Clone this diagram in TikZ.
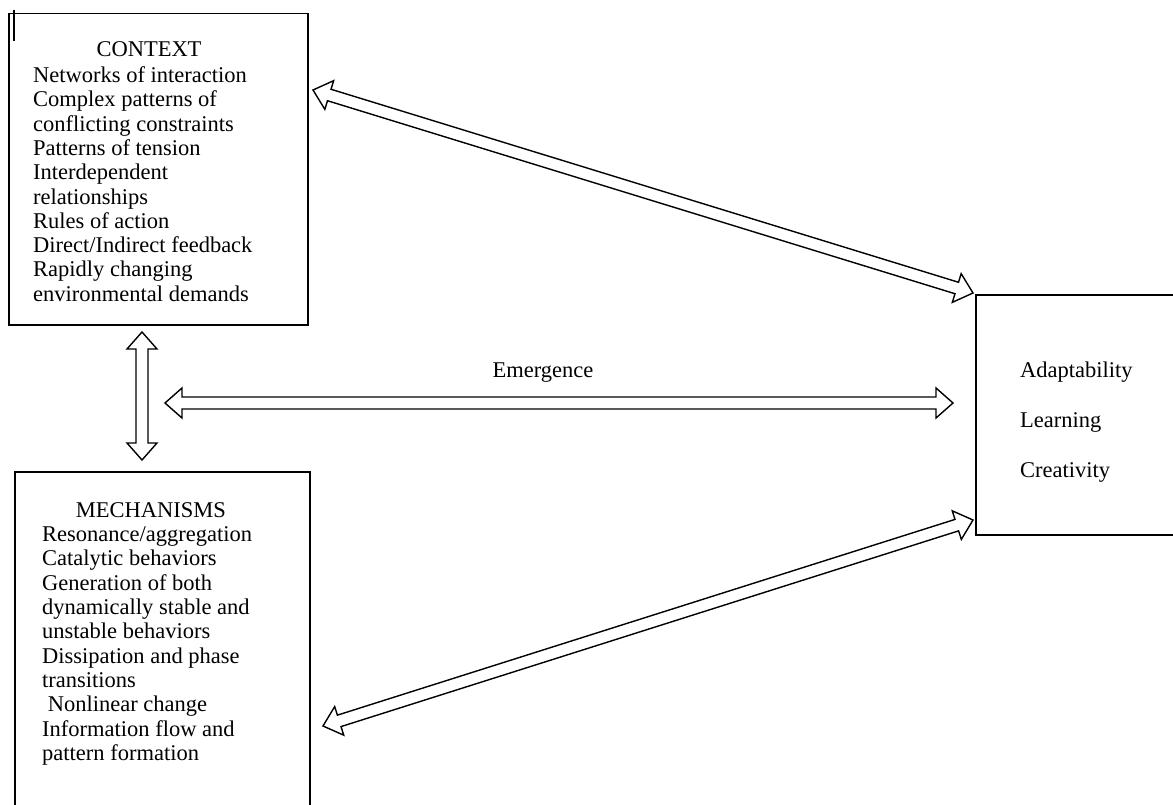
\documentclass[tikz,border=0pt]{standalone}
\usepackage{fontspec}
\setmainfont{Liberation Serif}
\usetikzlibrary{calc}
\newcommand\dblarrow[2]{%
  \draw[hollowarrow] (#1)
    -- ($(#1)!17pt!(#2)!15pt!90:(#2)$)
    -- ($(#1)!17pt!(#2)!6pt!90:(#2)$)
    -- ($(#2)!17pt!(#1)!6pt!-90:(#1)$)
    -- ($(#2)!17pt!(#1)!15pt!-90:(#1)$)
    -- (#2)
    -- ($(#2)!17pt!(#1)!15pt!90:(#1)$)
    -- ($(#2)!17pt!(#1)!6pt!90:(#1)$)
    -- ($(#1)!17pt!(#2)!6pt!-90:(#2)$)
    -- ($(#1)!17pt!(#2)!15pt!-90:(#2)$)
    -- cycle;}
\begin{document}
\begin{tikzpicture}[x=1pt,y=-1pt,
  box/.style={draw, line width=1.5pt, rectangle, inner sep=0pt, anchor=north west},
  hollowarrow/.style={draw, line width=1.4pt, fill=white, line join=miter},
  txt/.style={inner sep=0pt, font=\fontsize{22.5}{24.3}\selectfont},
  block/.style={txt, align=left, anchor=north west},
  every node/.append style={text=black}]
\useasboundingbox (0,0) rectangle (1173,805);
\clip (0,0) rectangle (1173,805);
\fill[white] (0,0) rectangle (1173,805);
% boxes
\node[box, minimum width=299pt, minimum height=311pt] (ctx) at (8,13) {};
\node[box, minimum width=295pt, minimum height=360pt] (mech) at (14,471) {};
\node[box, minimum width=230pt, minimum height=240pt] (res) at (975,294) {};
% cursor mark
\draw[line width=1.5pt] (14,10) -- (14,41);
% texts
\node[txt, anchor=base] (ctxhead) at (149,57) {CONTEXT};
\node[block] (ctxtext) at (33,66.5) {Networks of interaction\\Complex patterns of\\conflicting constraints\\Patterns of tension\\Interdependent\\relationships\\Rules of action\\Direct/Indirect feedback\\Rapidly changing\\environmental demands};
\node[txt, anchor=base] (mechhead) at (151,517) {MECHANISMS};
\node[block] (mechtext) at (42,526.5) {Resonance/aggregation\\Catalytic behaviors\\Generation of both\\dynamically stable and\\unstable behaviors\\Dissipation and phase\\transitions\\\ Nonlinear change\\Information flow and\\pattern formation};
\node[txt, anchor=base west] (adapt) at (1020,377) {Adaptability};
\node[txt, anchor=base west] (learn) at (1020,427) {Learning};
\node[txt, anchor=base west] (creat) at (1020,477) {Creativity};
\node[txt, anchor=base] (emerg) at (543,377) {Emergence};
% arrow ends
\coordinate (t1a) at (313,90);
\coordinate (t1b) at (973,293);
\coordinate (v1) at (142,332);
\coordinate (v2) at (142,460);
\coordinate (h1) at (165,403);
\coordinate (h2) at (953,403);
\coordinate (b1) at (323,726);
\coordinate (b2) at (973,520);
\dblarrow{t1a}{t1b}
\dblarrow{v1}{v2}
\dblarrow{h1}{h2}
\dblarrow{b1}{b2}
\end{tikzpicture}
\end{document}
